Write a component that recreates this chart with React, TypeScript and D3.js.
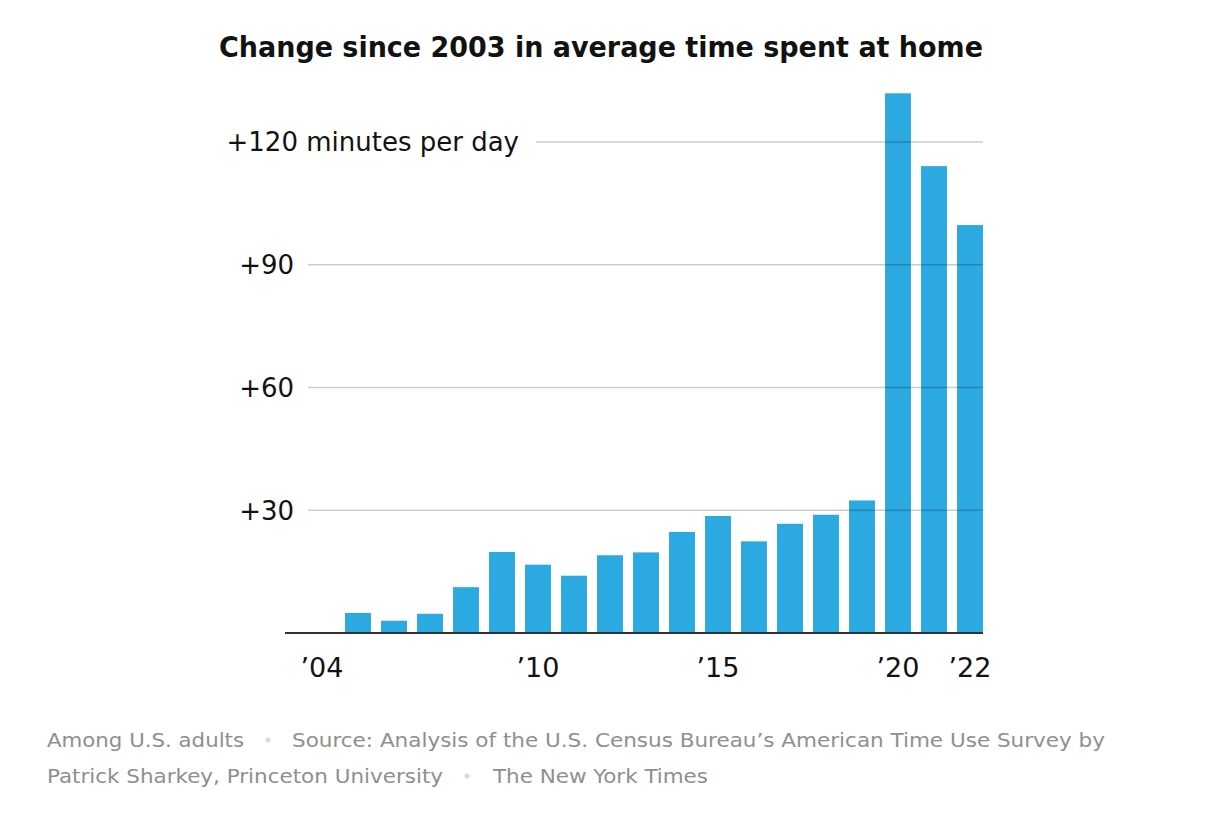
import React, { useEffect, useRef } from 'react';
import * as d3 from 'd3';

const years = [2004, 2005, 2006, 2007, 2008, 2009, 2010, 2011, 2012, 2013, 2014, 2015, 2016, 2017, 2018, 2019, 2020, 2021, 2022];
const minutes = [0, 4.9, 3.0, 4.7, 11.2, 19.8, 16.7, 14.0, 19.0, 19.7, 24.7, 28.6, 22.4, 26.7, 28.9, 32.4, 131.9, 114.1, 99.7];
const yTicks = [30, 60, 90, 120];
const xTickYears = [2004, 2010, 2015, 2020, 2022];
const title = 'Change since 2003 in average time spent at home';
const noteLines = [
  ['Among U.S. adults', 'Source: Analysis of the U.S. Census Bureau\u2019s American Time Use Survey by'],
  ['Patrick Sharkey, Princeton University', 'The New York Times'],
];

const WIDTH = 1216;
const HEIGHT = 837;

export default function App() {
  const svgRef = useRef<SVGSVGElement>(null);

  useEffect(() => {
    if (!svgRef.current) return;
    const svg = d3.select(svgRef.current);
    svg.selectAll('*').remove();

    const sans = "'DejaVu Sans', 'Liberation Sans', Arial, sans-serif";
    const narrow = "'DejaVu Sans Condensed', 'Liberation Sans', sans-serif";

    const x = d3.scaleBand<number>()
      .domain(years)
      .range([304, 988])
      .paddingInner(0.28)
      .paddingOuter(0.14);

    const y = d3.scaleLinear()
      .domain([0, 120])
      .range([633, 142]);

    // title
    svg.append('text')
      .attr('x', 219)
      .attr('y', 57)
      .attr('font-family', narrow)
      .attr('font-weight', 700)
      .attr('font-size', 28)
      .attr('textLength', 764)
      .attr('lengthAdjust', 'spacingAndGlyphs')
      .attr('fill', '#121212')
      .text(title);

    // bars
    svg.append('g')
      .selectAll('rect')
      .data(years)
      .join('rect')
      .attr('x', d => x(d)!)
      .attr('width', x.bandwidth())
      .attr('y', (d, i) => y(minutes[i]))
      .attr('height', (d, i) => y(0) - y(minutes[i]))
      .attr('fill', '#2ba9e0');

    // gridlines, drawn over the bars
    const grid = svg.append('g');
    grid.selectAll('line')
      .data(yTicks)
      .join('line')
      .attr('x1', d => (d === 120 ? 536 : 308))
      .attr('x2', 983)
      .attr('y1', d => y(d))
      .attr('y2', d => y(d))
      .attr('stroke', '#000')
      .attr('stroke-opacity', 0.2)
      .attr('stroke-width', 1.3);

    grid.selectAll('text')
      .data(yTicks)
      .join('text')
      .attr('x', d => (d === 120 ? 519 : 294))
      .attr('y', d => y(d))
      .attr('dy', '0.36em')
      .attr('text-anchor', 'end')
      .attr('font-family', sans)
      .attr('font-size', 26)
      .attr('fill', '#121212')
      .text(d => (d === 120 ? `+${d} minutes per day` : `+${d}`));

    // baseline
    svg.append('line')
      .attr('x1', 285)
      .attr('x2', 983)
      .attr('y1', y(0))
      .attr('y2', y(0))
      .attr('stroke', '#333')
      .attr('stroke-width', 2);

    // x labels
    svg.append('g')
      .selectAll('text')
      .data(xTickYears)
      .join('text')
      .attr('x', d => x(d)! + x.bandwidth() / 2)
      .attr('y', 677)
      .attr('text-anchor', 'middle')
      .attr('font-family', sans)
      .attr('font-size', 27)
      .attr('fill', '#121212')
      .text(d => `\u2019${String(d).slice(2)}`);

    // note / source
    const note = svg.append('g')
      .attr('font-family', narrow)
      .attr('font-size', 20)
      .attr('fill', '#8f8f8f');
    const segs = [
      [{ x: 47, w: 197 }, { x: 292, w: 813 }],
      [{ x: 47, w: 396 }, { x: 493, w: 215 }],
    ];
    const dots = [268, 467];
    noteLines.forEach((parts, li) => {
      const baseY = 747 + li * 36;
      parts.forEach((p, pi) => {
        note.append('text')
          .attr('x', segs[li][pi].x)
          .attr('y', baseY)
          .attr('textLength', segs[li][pi].w)
          .attr('lengthAdjust', 'spacingAndGlyphs')
          .text(p);
      });
      note.append('circle')
        .attr('cx', dots[li])
        .attr('cy', baseY - 7)
        .attr('r', 2.6)
        .attr('fill', '#d9d9d9');
    });
  }, []);

  return (
    <svg
      ref={svgRef}
      width={WIDTH}
      height={HEIGHT}
      style={{ position: 'absolute', left: 0, top: 0, background: '#fff' }}
    />
  );
}
